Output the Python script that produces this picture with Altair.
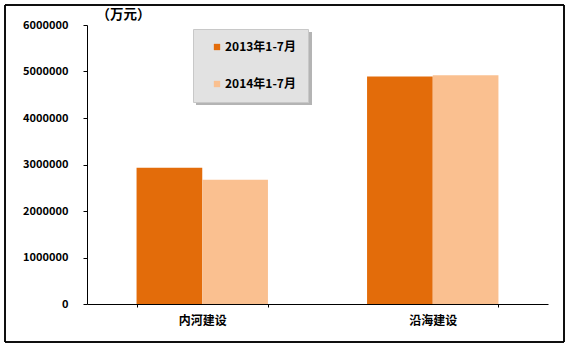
import altair as alt
import pandas as pd

categories = ["内河建设", "内河建设", "沿海建设", "沿海建设"]
periods = ["2013年1-7月", "2014年1-7月", "2013年1-7月", "2014年1-7月"]
values = [2930000, 2670000, 4890000, 4920000]
colors = ["#E36C0A", "#FAC090"]
y_ticks = [0, 1000000, 2000000, 3000000, 4000000, 5000000, 6000000]

df = pd.DataFrame({"cat": categories, "period": periods, "value": values})
FONT = "Noto Sans CJK SC"

bars = alt.Chart(df).mark_bar().encode(
    x=alt.X("cat:N", title=None, sort=["内河建设", "沿海建设"],
            scale=alt.Scale(paddingInner=0.43, paddingOuter=0.215),
            axis=alt.Axis(labelAngle=0, labelFont=FONT, labelFontWeight="bold",
                          labelFontSize=12, labelColor="#000", labelPadding=8,
                          domainColor="#000", tickColor="#000", tickSize=3,
                          tickBand="extent", grid=False)),
    xOffset=alt.XOffset("period:N"),
    y=alt.Y("value:Q", scale=alt.Scale(domain=[0, 6000000]),
            axis=alt.Axis(values=y_ticks, format="d", grid=False,
                          title="（万元）", titleAngle=0, titleX=36, titleY=-4,
                          titleAlign="center", titleBaseline="bottom",
                          titleFont=FONT, titleFontSize=13.5, titleFontWeight="bold",
                          titleColor="#000",
                          labelFont=FONT, labelFontWeight="bold", labelFontSize=11,
                          labelColor="#000", labelPadding=15,
                          domainColor="#000", tickColor="#000", tickSize=4)),
    color=alt.Color("period:N", scale=alt.Scale(range=colors),
                    legend=alt.Legend(title=None, orient="none", legendX=106, legendY=4,
                                      fillColor="#E2E2E2", strokeColor="#C8C8C8",
                                      padding=12, rowPadding=25, symbolType="square",
                                      symbolSize=40, symbolStrokeWidth=0, symbolOffset=6,
                                      labelOffset=2, labelFont=FONT, labelFontWeight="bold",
                                      labelFontSize=12, labelColor="#000")),
)

shadow = alt.Chart(df).mark_rect(fill="#B4B4B4", opacity=0.8).encode(
    x=alt.value(109), x2=alt.value(225), y=alt.value(7), y2=alt.value(80)
)

border = alt.Chart(df).mark_rect(fill=None, stroke="#000", strokeWidth=1).encode(
    x=alt.value(-82), x2=alt.value(477), y=alt.value(-20), y2=alt.value(317)
)

chart = alt.layer(shadow, bars, border).properties(
    width=461, height=279,
    padding={"left": 87, "top": 25, "right": 22, "bottom": 47},
    autosize=alt.AutoSizeParams(type="none"),
    background="white",
).configure_view(stroke=None)

chart.save("out.html", embed_options={"renderer": "svg", "actions": False})
